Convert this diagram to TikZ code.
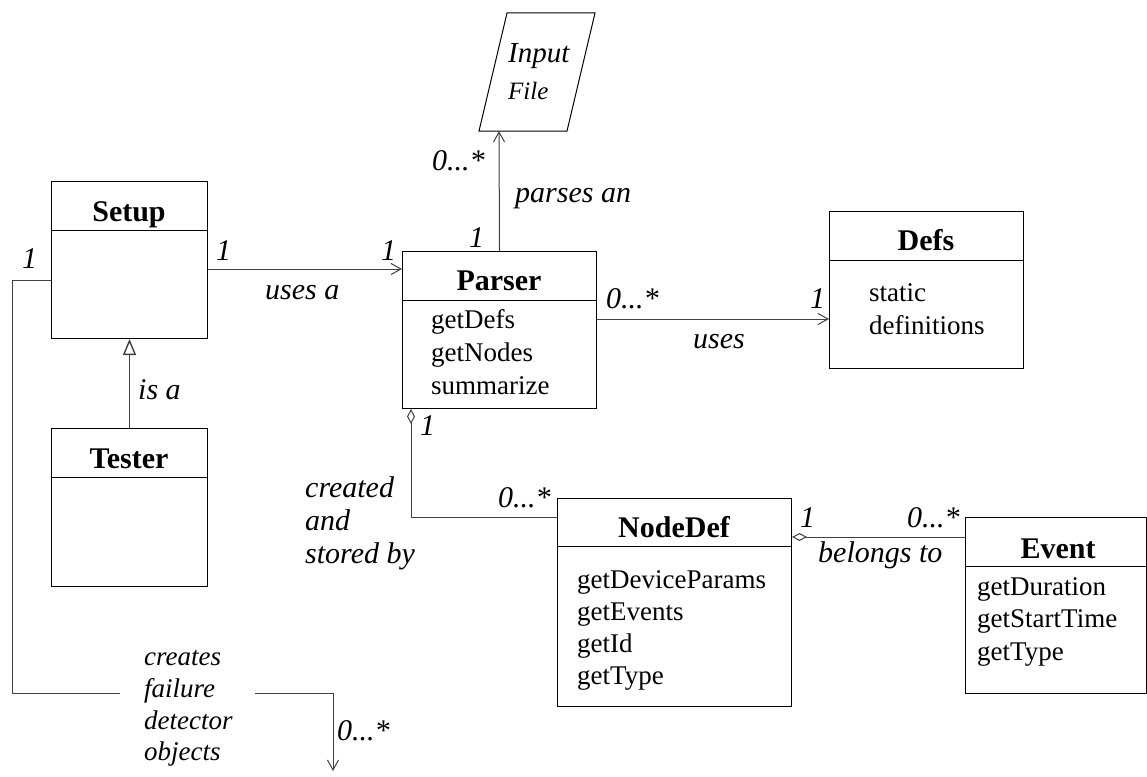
\documentclass[tikz,border=0pt]{standalone}
\usepackage{fontspec}
\setmainfont{Liberation Serif}
\usetikzlibrary{arrows.meta}
\begin{document}
\begin{tikzpicture}[x=1pt,y=-1pt,
  cls/.style={draw, line width=1pt, inner sep=0pt, anchor=north west},
  ttl/.style={font=\fontsize{30}{36}\selectfont\bfseries, anchor=base, inner sep=0pt},
  mth/.style={font=\fontsize{27}{33}\selectfont, anchor=base west, inner sep=0pt},
  lbl/.style={font=\fontsize{30}{36}\selectfont\itshape, anchor=base west, inner sep=0pt},
  sml/.style={font=\fontsize{27}{32}\selectfont\itshape, anchor=base west, inner sep=0pt},
  conn/.style={line width=1pt, draw=black!75},
  openarr/.style={-{Straight Barb[length=10pt,width=11pt,line width=1pt]}},
  genarr/.style={-{Triangle[open,length=16pt,width=13pt,line width=1.4pt]}},
  aggarr/.style={{Diamond[open,length=15pt,width=8pt,line width=1pt]}-},
]
\useasboundingbox (0,0) rectangle (1147,776);

% ---------- classes ----------
\node[cls, minimum width=156pt, minimum height=157pt] (setup) at (51,181) {};
\draw[line width=1pt] ([yshift=-49pt]setup.north west) -- ([yshift=-49pt]setup.north east);
\node[ttl] (setupT) at (129,221) {Setup};

\node[cls, minimum width=156pt, minimum height=158pt] (tester) at (51,428) {};
\draw[line width=1pt] ([yshift=-49pt]tester.north west) -- ([yshift=-49pt]tester.north east);
\node[ttl] (testerT) at (129,468) {Tester};

\node[cls, minimum width=194pt, minimum height=157pt] (parser) at (402,251) {};
\draw[line width=1pt] ([yshift=-49pt]parser.north west) -- ([yshift=-49pt]parser.north east);
\node[ttl] (parserT) at (499,290) {Parser};
\node[mth] (p1) at (431,328) {getDefs};
\node[mth] (p2) at (431,361) {getNodes};
\node[mth] (p3) at (431,394) {summarize};

\node[cls, minimum width=194pt, minimum height=157pt] (defs) at (829,211) {};
\draw[line width=1pt] ([yshift=-49pt]defs.north west) -- ([yshift=-49pt]defs.north east);
\node[ttl] (defsT) at (926,250) {Defs};
\node[mth] (d1) at (869,301) {static};
\node[mth] (d2) at (869,334) {definitions};

\node[cls, minimum width=234pt, minimum height=208pt] (nodedef) at (557,498) {};
\draw[line width=1pt] ([yshift=-48pt]nodedef.north west) -- ([yshift=-48pt]nodedef.north east);
\node[ttl] (nodedefT) at (674,537) {NodeDef};
\node[mth] (n1) at (577,588) {getDeviceParams};
\node[mth] (n2) at (577,620) {getEvents};
\node[mth] (n3) at (577,652) {getId};
\node[mth] (n4) at (577,684) {getType};

\node[cls, minimum width=181pt, minimum height=176pt] (event) at (965,517) {};
\draw[line width=1pt] ([yshift=-49pt]event.north west) -- ([yshift=-49pt]event.north east);
\node[ttl] (eventT) at (1058,558) {Event};
\node[mth] (e1) at (977,595) {getDuration};
\node[mth] (e2) at (977,627) {getStartTime};
\node[mth] (e3) at (977,660) {getType};

% ---------- input file ----------
\draw[line width=1pt] (507,13) -- (595,13) -- (567,131) -- (479,131) -- cycle;
\coordinate (inpb) at (499,131);
\node[font=\fontsize{29}{34}\selectfont\itshape, anchor=base west, inner sep=0pt] (inp1) at (508,63) {Input};
\node[font=\fontsize{25}{30}\selectfont\itshape, anchor=base west, inner sep=0pt] (inp2) at (508,99) {File};

% ---------- connectors ----------
\draw[conn, openarr] (setup.east |- 0,269) -- (parser.west |- 0,269);
\draw[conn, genarr] (tester.north) -- (setup.south);
\draw[conn, openarr] (parser.north) -- (inpb);
\draw[conn, openarr] (parser.east |- 0,319) -- (defs.west |- 0,319);
\draw[conn, aggarr] (parser.south -| 411,0) |- (nodedef.west |- 0,517);
\draw[conn, aggarr] (nodedef.east |- 0,537) -- (event.west |- 0,537);

\coordinate (gl) at (120,693);
\coordinate (gr) at (255,693);
\coordinate (fdend) at (333,771);
\draw[conn] (setup.west |- 0,280) -- (12,280) -- (12,693) -- (gl);
\draw[conn, openarr] (gr) -| (fdend);

% ---------- labels ----------
\node[lbl] (l1) at (22,268) {1};
\node[lbl] (l2) at (216,260) {1};
\node[lbl] (l3) at (381,260) {1};
\node[lbl] (l4) at (265,299) {uses a};
\node[lbl] (l5) at (138,399) {is a};
\node[lbl] (l6) at (432,170) {0...*};
\node[lbl] (l7) at (515,202) {parses an};
\node[lbl] (l8) at (469,247) {1};
\node[lbl] (l9) at (606,308) {0...*};
\node[lbl] (l10) at (810,308) {1};
\node[lbl] (l11) at (693,348) {uses};
\node[lbl] (l12) at (420,435) {1};
\node[lbl] (l13) at (498,507) {0...*};
\node[lbl] (l14) at (305,497) {created};
\node[lbl] (l15) at (305,530) {and};
\node[lbl] (l16) at (305,563) {stored by};
\node[lbl] (l17) at (800,527) {1};
\node[lbl] (l18) at (907,527) {0...*};
\node[lbl] (l19) at (818,562) {belongs to};
\node[sml] (b1) at (144,665) {creates};
\node[sml] (b2) at (144,697) {failure};
\node[sml] (b3) at (144,729) {detector};
\node[sml] (b4) at (144,760) {objects};
\node[lbl] (l20) at (337,740) {0...*};
\end{tikzpicture}
\end{document}
